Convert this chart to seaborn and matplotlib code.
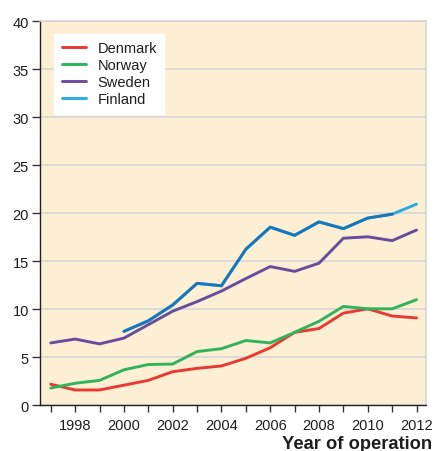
import matplotlib
matplotlib.use("Agg")
import matplotlib.pyplot as plt
import pandas as pd
import seaborn as sns

sns.set_style("white")
plt.rcParams['font.family'] = ['Liberation Sans', 'DejaVu Sans']

years = list(range(1997, 2013))
denmark = [2.2, 1.6, 1.6, 2.1, 2.6, 3.5, 3.85, 4.1, 4.9, 6.0, 7.6, 8.0, 9.6, 10.05, 9.3, 9.1]
norway = [1.8, 2.3, 2.6, 3.7, 4.25, 4.3, 5.6, 5.9, 6.75, 6.5, 7.6, 8.75, 10.3, 10.05, 10.05, 11.0]
sweden = [6.5, 6.9, 6.4, 7.0, 8.4, 9.8, 10.8, 11.9, 13.2, 14.45, 13.95, 14.8, 17.4, 17.55, 17.15, 18.25]
finland_years = list(range(2000, 2013))
finland = [7.7, 8.8, 10.45, 12.7, 12.45, 16.25, 18.55, 17.7, 19.1, 18.4, 19.5, 19.9, 20.95]

countries = ["Denmark", "Norway", "Sweden", "Finland"]
colors = {"Denmark": "#e83a33", "Norway": "#2fb35c", "Sweden": "#6a4c9f", "Finland": "#29abe2"}
finland_dark = "#1a76bb"
txt = "#1e1e1e"

df = pd.concat([
    pd.DataFrame({"year": years, "value": denmark, "country": "Denmark"}),
    pd.DataFrame({"year": years, "value": norway, "country": "Norway"}),
    pd.DataFrame({"year": years, "value": sweden, "country": "Sweden"}),
    pd.DataFrame({"year": finland_years, "value": finland, "country": "Finland"}),
])

fig = plt.figure(figsize=(4.35, 4.52), dpi=100)
ax = fig.add_axes([0.092, 0.101, 0.888, 0.85])
ax.set_facecolor("#fdefd3")

sns.lineplot(data=df, x="year", y="value", hue="country", hue_order=countries,
             palette=colors, linewidth=2.1, ax=ax)
# Finland is drawn dark blue except the last segment
sns.lineplot(x=finland_years[:-1], y=finland[:-1], color=finland_dark,
             linewidth=2.1, ax=ax, legend=False)

ax.set_xlim(1996.56, 2012.4)
ax.set_ylim(0, 40)
ax.set_yticks(range(0, 41, 5))
ax.set_xticks(years)
ax.set_xticklabels([str(y) if y % 2 == 0 else "" for y in years])
ax.yaxis.grid(True, color="#d8d8d8", linewidth=1.2)
ax.set_axisbelow(True)

for s in ["top", "right"]:
    ax.spines[s].set_color("#d4d4d4")
    ax.spines[s].set_linewidth(1.2)
for s in ["left", "bottom"]:
    ax.spines[s].set_color("#222222")
    ax.spines[s].set_linewidth(1.0)

ax.tick_params(axis="y", direction="out", length=6, width=1, color="#333333",
               labelsize=10.5, labelcolor=txt, pad=2, left=True)
ax.tick_params(axis="x", direction="out", length=5, width=1, color="#333333",
               labelsize=10.5, labelcolor=txt, pad=4, bottom=True)

ax.set_ylabel("")
ax.set_xlabel("Year of operation", fontsize=13.2, fontweight="bold", color=txt, loc="right")
ax.xaxis.set_label_coords(1.016, -0.076)

leg = ax.legend(loc="upper left", bbox_to_anchor=(0.018, 0.985), frameon=True,
                fontsize=10.5, handlelength=1.7, labelspacing=0.2, borderpad=0.5,
                handletextpad=0.75, fancybox=False)
leg.get_frame().set_facecolor("white")
leg.get_frame().set_edgecolor("white")
leg.get_frame().set_alpha(1)
for t in leg.get_texts():
    t.set_color(txt)

fig.savefig("out.png", dpi=100)
